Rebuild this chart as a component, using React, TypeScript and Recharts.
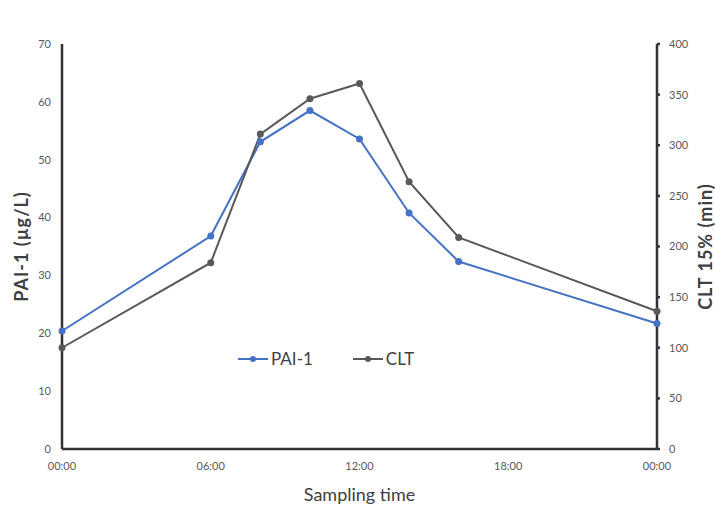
import { Label, Legend, Line, LineChart, XAxis, YAxis } from "recharts";

const hours = [0, 6, 8, 10, 12, 14, 16, 24];
const paiValues = [20.4, 36.8, 53.1, 58.5, 53.6, 40.8, 32.4, 21.7];
const cltValues = [100, 184, 311, 346, 361, 264, 209, 136];
const timeTicks = [0, 6, 12, 18, 24];
const paiTicks = [0, 10, 20, 30, 40, 50, 60, 70];
const cltTicks = [0, 50, 100, 150, 200, 250, 300, 350, 400];
const legendOrder = ["PAI-1", "CLT"];

const data = hours.map((hour, i) => ({ hour, pai: paiValues[i], clt: cltValues[i] }));

const FONT = "Lato, 'Open Sans', sans-serif";
const BLUE = "#4472c4";
const GRAY = "#595959";
const AXIS = "#333333";
const TICK = { fill: "#595959", fontSize: 11, fontFamily: FONT };
const AXIS_TITLE = {
  textAnchor: "middle",
  fill: "#404040",
  fontSize: 18,
  fontWeight: 700,
  letterSpacing: 1,
  fontFamily: FONT,
};

const formatHour = (h: number) => `${String(h % 24).padStart(2, "0")}:00`;

const LegendContent = (props: any) => {
  const items = [...(props.payload ?? [])].sort(
    (a: any, b: any) => legendOrder.indexOf(a.value) - legendOrder.indexOf(b.value)
  );
  return (
    <div style={{ display: "flex", alignItems: "center", fontFamily: FONT }}>
      {items.map((item: any) => (
        <div
          key={item.value}
          style={{ display: "flex", alignItems: "center", marginRight: 40 }}
        >
          <svg width={30} height={10}>
            <line x1={0} y1={5} x2={30} y2={5} stroke={item.color} strokeWidth={2} />
            <circle cx={15} cy={5} r={3} fill={item.color} />
          </svg>
          <span style={{ color: "#404040", fontSize: 17, marginLeft: 3 }}>{item.value}</span>
        </div>
      ))}
    </div>
  );
};

const App = () => {
  return (
    <div style={{ position: "absolute", left: 0, top: 0, background: "#fff" }}>
      <LineChart
        width={715}
        height={510}
        data={data}
        margin={{ top: 23, right: 0, bottom: 0, left: 0 }}
      >
        <XAxis
          dataKey="hour"
          type="number"
          domain={[0, 24]}
          ticks={timeTicks}
          tickFormatter={formatHour}
          tick={TICK}
          tickLine={false}
          tickSize={0}
          tickMargin={13}
          height={61}
          stroke={AXIS}
          strokeWidth={2.5}
        >
          <Label
            value="Sampling time"
            position="insideBottom"
            offset={9}
            style={{ fill: "#404040", fontSize: 18, fontFamily: FONT }}
          />
        </XAxis>
        <YAxis
          yAxisId="left"
          domain={[0, 70]}
          ticks={paiTicks}
          tick={TICK}
          tickLine={false}
          tickSize={0}
          tickMargin={11}
          width={62}
          stroke={AXIS}
          strokeWidth={2.5}
        >
          <Label
            value="PAI-1 (µg/L)"
            angle={-90}
            position="insideLeft"
            offset={22}
            style={AXIS_TITLE}
          />
        </YAxis>
        <YAxis
          yAxisId="right"
          orientation="right"
          domain={[0, 400]}
          ticks={cltTicks}
          tick={TICK}
          tickSize={3}
          tickMargin={9}
          width={58}
          stroke={AXIS}
          strokeWidth={2.5}
        >
          <Label
            value="CLT 15% (min)"
            angle={-90}
            position="insideRight"
            offset={9}
            style={AXIS_TITLE}
          />
        </YAxis>
        <Legend
          content={LegendContent}
          verticalAlign="top"
          wrapperStyle={{ left: 238, top: 348, width: 260 }}
        />
        <Line
          yAxisId="left"
          name="PAI-1"
          dataKey="pai"
          type="linear"
          stroke={BLUE}
          strokeWidth={2}
          dot={{ r: 3.5, fill: BLUE, stroke: BLUE, strokeWidth: 0 }}
          isAnimationActive={false}
        />
        <Line
          yAxisId="right"
          name="CLT"
          dataKey="clt"
          type="linear"
          stroke={GRAY}
          strokeWidth={2}
          dot={{ r: 3.5, fill: GRAY, stroke: GRAY, strokeWidth: 0 }}
          isAnimationActive={false}
        />
      </LineChart>
    </div>
  );
};

export default App;
